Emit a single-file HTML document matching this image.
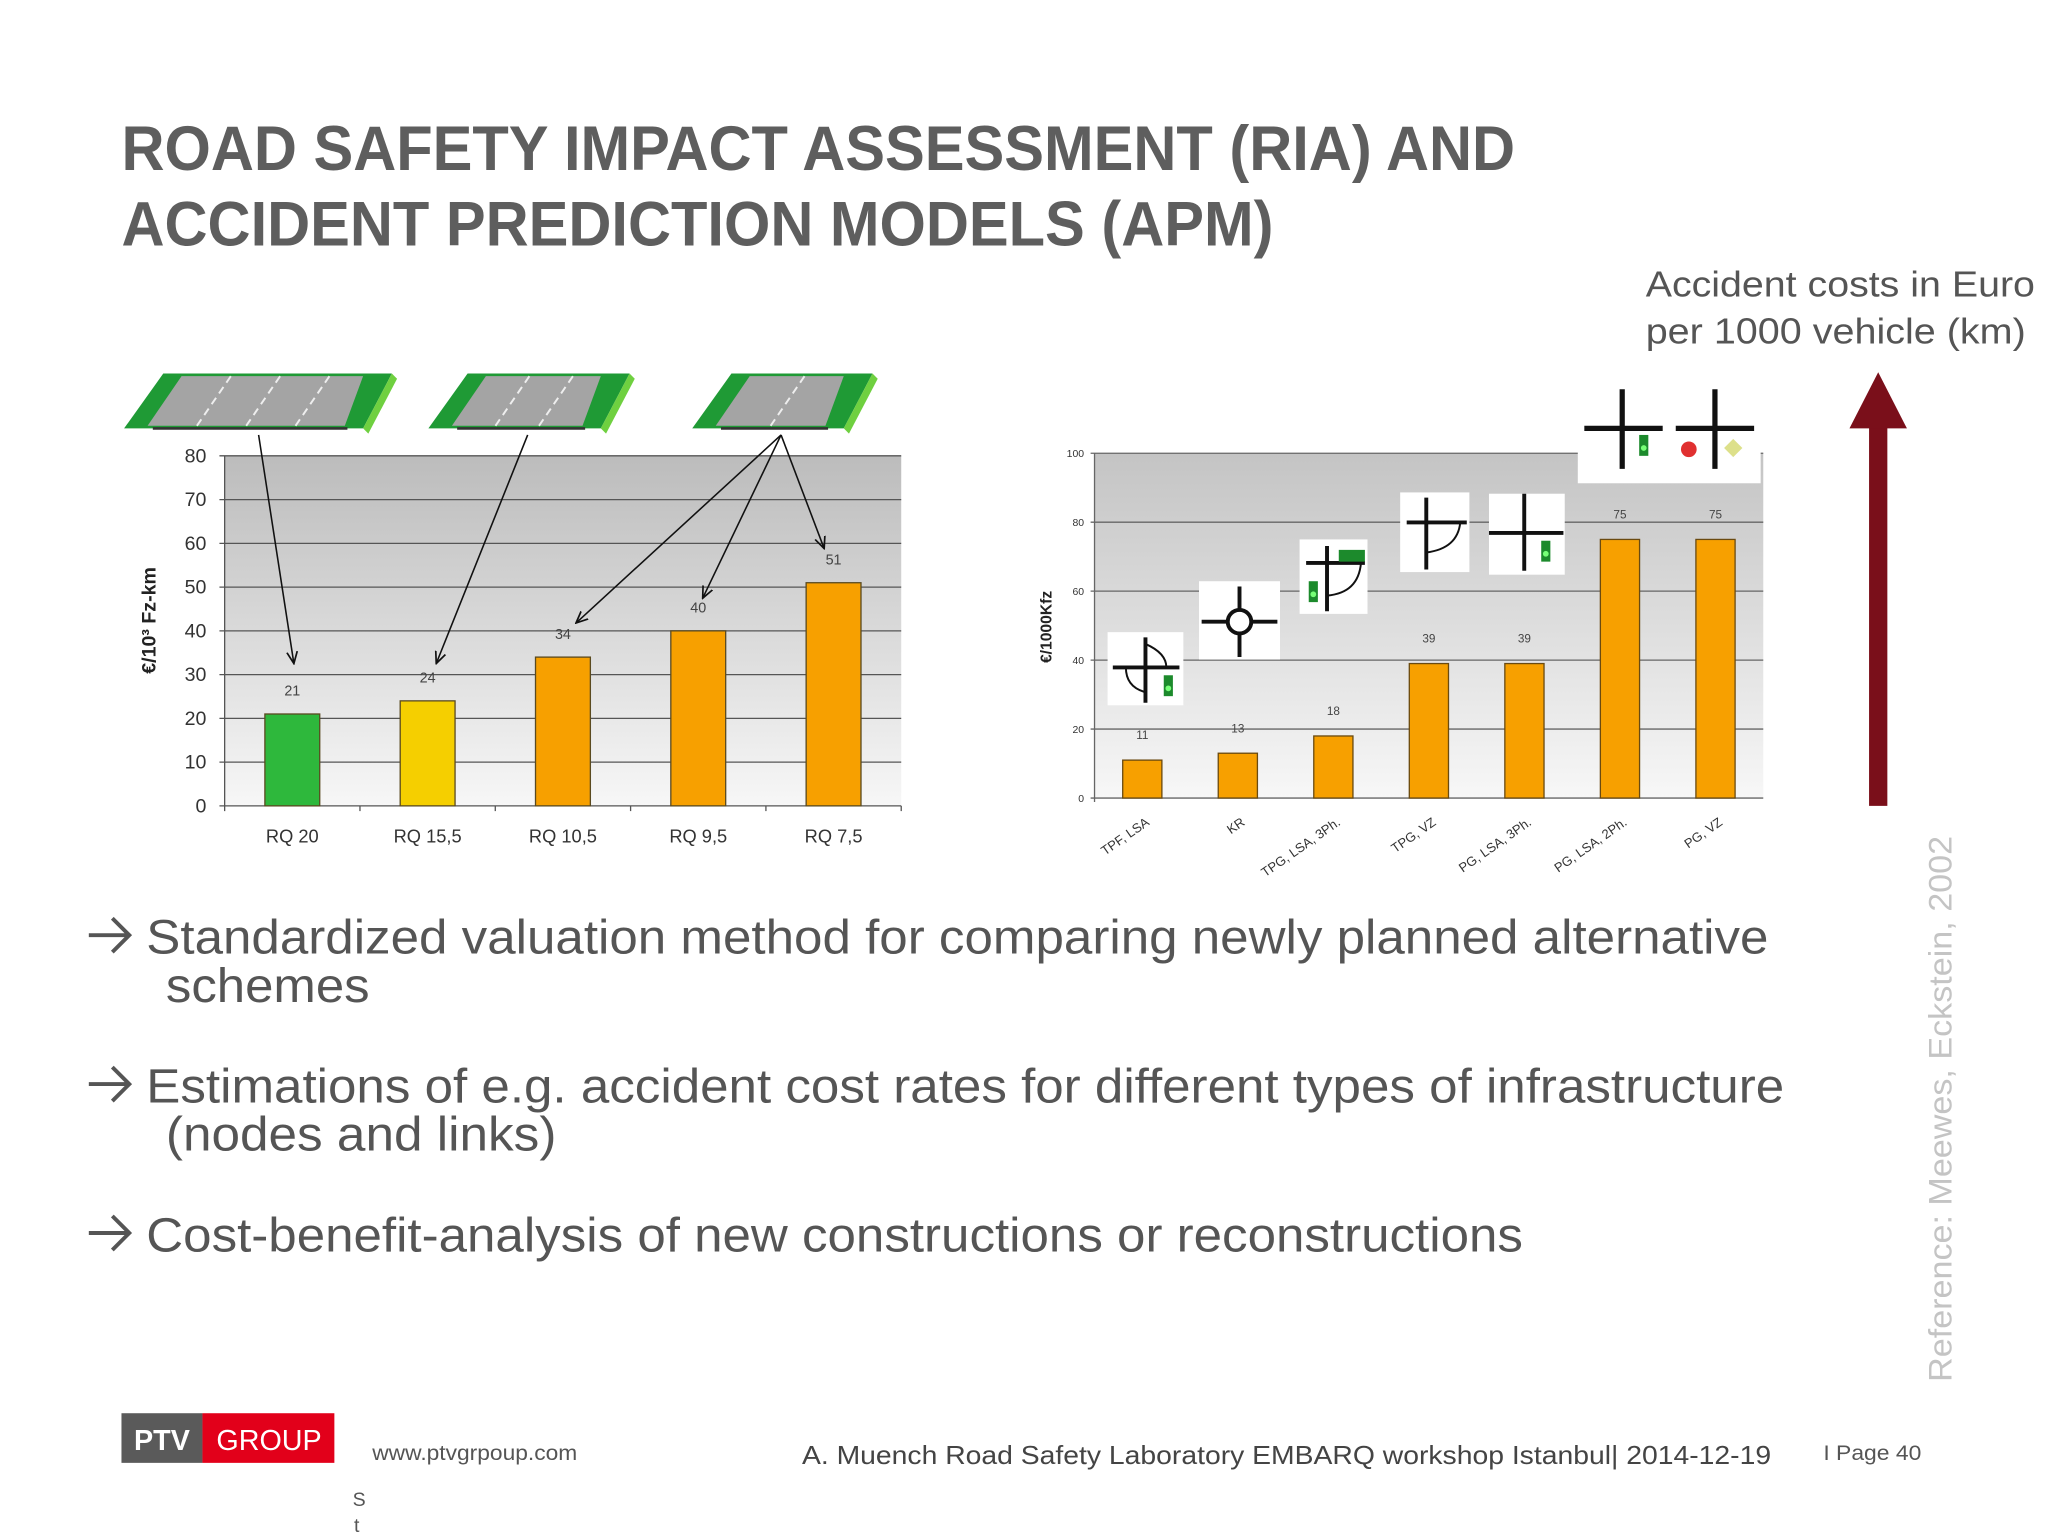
<!DOCTYPE html>
<html><head><meta charset="utf-8"><style>
html,body{margin:0;padding:0;background:#fff;}
svg{display:block;font-family:"Liberation Sans",sans-serif;}
</style></head><body>
<svg id="s" width="2048" height="1536" viewBox="0 0 1568 1176" xmlns="http://www.w3.org/2000/svg">
<defs>
<linearGradient id="pg" x1="0" y1="0" x2="0" y2="1"><stop offset="0" stop-color="#bcbcbc"/><stop offset="1" stop-color="#f7f7f7"/></linearGradient>
<linearGradient id="pg2" x1="0" y1="0" x2="0" y2="1"><stop offset="0" stop-color="#c4c4c4"/><stop offset="1" stop-color="#f7f7f7"/></linearGradient>
<marker id="ah" markerWidth="10" markerHeight="10" refX="9" refY="5" orient="auto" markerUnits="userSpaceOnUse"><path d="M0,1 L9,5 L0,9" fill="none" stroke="#111" stroke-width="1.3"/></marker>
</defs>
<rect x="0" y="0" width="1568" height="1176" fill="#fff"/>
<text x="93" y="130" font-size="48" font-weight="bold" fill="#5e5e5e" textLength="1067" lengthAdjust="spacingAndGlyphs">ROAD SAFETY IMPACT ASSESSMENT (RIA) AND</text>
<text x="93" y="188" font-size="48" font-weight="bold" fill="#5e5e5e" textLength="882" lengthAdjust="spacingAndGlyphs">ACCIDENT PREDICTION MODELS (APM)</text>
<text x="1260" y="227" font-size="28" fill="#555" textLength="298" lengthAdjust="spacingAndGlyphs">Accident costs in Euro</text>
<text x="1260" y="263" font-size="28" fill="#555" textLength="291" lengthAdjust="spacingAndGlyphs">per 1000 vehicle (km)</text>
<g>
<rect x="1431" y="320" width="14" height="297" fill="#7a0f1a"/>
<polygon points="1416,328 1438,285 1460,328" fill="#7a0f1a"/>
</g>
<g id="left"></g>
<g id="right"></g>
<g fill="#555" font-size="37">
<path d="M68,716 H99 M86,703 L99,716 L86,729" fill="none" stroke="#555" stroke-width="3"/>
<text x="112" y="730" textLength="1242" lengthAdjust="spacingAndGlyphs">Standardized valuation method for comparing newly planned alternative</text>
<text x="127" y="767" textLength="156" lengthAdjust="spacingAndGlyphs">schemes</text>
<path d="M68,830 H99 M86,817 L99,830 L86,843" fill="none" stroke="#555" stroke-width="3"/>
<text x="112" y="844" textLength="1254" lengthAdjust="spacingAndGlyphs">Estimations of e.g. accident cost rates for different types of infrastructure</text>
<text x="127" y="881" textLength="299" lengthAdjust="spacingAndGlyphs">(nodes and links)</text>
<path d="M68,944 H99 M86,931 L99,944 L86,957" fill="none" stroke="#555" stroke-width="3"/>
<text x="112" y="958" textLength="1054" lengthAdjust="spacingAndGlyphs">Cost-benefit-analysis of new constructions or reconstructions</text>
</g>
<text transform="translate(1494,1058) rotate(-90)" font-size="25" fill="#c4c4c4" textLength="418" lengthAdjust="spacingAndGlyphs">Reference: Meewes, Eckstein, 2002</text>
<g>
<rect x="93" y="1082" width="62" height="38" fill="#5a5a5a"/>
<rect x="155" y="1082" width="101" height="38" fill="#e2001a"/>
<text x="124" y="1110" font-size="22" font-weight="bold" fill="#fff" text-anchor="middle">PTV</text>
<text x="206" y="1110" font-size="22" fill="#fff" text-anchor="middle">GROUP</text>
</g>
<text x="285" y="1118" font-size="16" fill="#555" textLength="157" lengthAdjust="spacingAndGlyphs">www.ptvgrpoup.com</text>
<text x="614" y="1121" font-size="20" fill="#444" textLength="742" lengthAdjust="spacingAndGlyphs">A. Muench Road Safety Laboratory EMBARQ workshop Istanbul| 2014-12-19</text>
<text x="1396" y="1118" font-size="16" fill="#555" textLength="75" lengthAdjust="spacingAndGlyphs">I Page 40</text>
<text x="270" y="1153" font-size="15" fill="#555">S</text>
<text x="271" y="1173" font-size="15" fill="#555">t</text>
</svg>
<script>
const NS="http://www.w3.org/2000/svg";
function mk(p,tag,attrs,txt){const e=document.createElementNS(NS,tag);for(const k in attrs)e.setAttribute(k,attrs[k]);if(txt!==undefined)e.textContent=txt;p.appendChild(e);return e;}

// ---- Left chart data ----
const leftCats=["RQ 20","RQ 15,5","RQ 10,5","RQ 9,5","RQ 7,5"];
const leftVals=[21,24,34,40,51];
const leftColors=["#2eb83c","#f5cf00","#f7a000","#f7a000","#f7a000"];
const leftTicks=[0,10,20,30,40,50,60,70,80];
// ---- Right chart data ----
const rightCats=["TPF, LSA","KR","TPG, LSA, 3Ph.","TPG, VZ","PG, LSA, 3Ph.","PG, LSA, 2Ph.","PG, VZ"];
const rightVals=[11,13,18,39,39,75,75];
const rightTicks=[0,20,40,60,80,100];

// Left chart
(function(){
const g=document.getElementById('left');
const x0=172,x1=690,yb=617,yt=349,max=80;
const y=v=>yb-(v/max)*(yb-yt);
const bw=(x1-x0)/leftCats.length;
const xc=i=>x0+bw*(i+0.5);
mk(g,'rect',{x:x0,y:yt,width:x1-x0,height:yb-yt,fill:'url(#pg)'});
leftTicks.forEach(t=>{
  const l=mk(g,'line',{x1:x0-4,x2:x1,y1:y(t),y2:y(t),stroke:'#555','stroke-width':1});
  
  
  const tx=mk(g,'text',{x:x0-14,y:y(t)+5,'font-size':15,fill:'#333','text-anchor':'end'},t);
  
  
});
mk(g,'line',{x1:x0,x2:x0,y1:yt,y2:yb+4,stroke:'#555'});
leftCats.forEach((c,i)=>{
  const w=42,v=leftVals[i];
  const r=mk(g,'rect',{x:xc(i)-w/2,y:y(v),width:w,height:yb-y(v),fill:leftColors[i],stroke:'#5a4a20','stroke-width':1});
  
  
  const vl=mk(g,'text',{x:xc(i),y:y(v)-14,'font-size':11,fill:'#444','text-anchor':'middle'},v);
  
  
  const cl=mk(g,'text',{x:xc(i),y:yb+28,'font-size':14,fill:'#333','text-anchor':'middle'},c);
  
  
  mk(g,'line',{x1:x0+bw*(i+1),x2:x0+bw*(i+1),y1:yb,y2:yb+4,stroke:'#555'});
});
const yt2=mk(g,'text',{transform:'translate(119,475) rotate(-90)','font-size':15,fill:'#222','text-anchor':'middle','font-weight':'bold'},'€/10³ Fz-km');


function road(x,w,lanes){
  const rg=mk(g,'g',{});
  
  
  const sk=30;
  mk(rg,'polygon',{points:`${x},328 ${x+sk},286 ${x+w},286 ${x+w-sk+8},328`,fill:'#1f9a35'});
  mk(rg,'polygon',{points:`${x+18},326 ${x+sk+14},288 ${x+w-22},288 ${x+w-sk-6},326`,fill:'#a4a4a4'});
  for(let k=1;k<lanes;k++){const f=k/lanes;const a=x+18+(w-sk-24)*f;mk(rg,'line',{x1:a,y1:326,x2:a+sk-4,y2:288,stroke:'#eee','stroke-width':1.5,'stroke-dasharray':'6 4'});}
  mk(rg,'polygon',{points:`${x+w-sk+8},328 ${x+w},286 ${x+w+4},290 ${x+w-sk+12},332`,fill:'#6fd040'});
  mk(rg,'line',{x1:x+22,y1:328,x2:x+w-sk-4,y2:328,stroke:'#333','stroke-width':2});
}
road(95,205,4);road(328,154,3);road(530,138,2);
const arrows=[[198,333,225,508],[404,333,334,508],[598,333,441,477],[598,333,538,458],[598,333,631,420]];
arrows.forEach(a=>{const l=mk(g,'line',{x1:a[0],y1:a[1],x2:a[2],y2:a[3],stroke:'#111','stroke-width':1.2,'marker-end':'url(#ah)'});
  
  });
})();

// Right chart
(function(){
const g=document.getElementById('right');
const x0=838,x1=1350,yb=611,yt=347,max=100;
const y=v=>yb-(v/max)*(yb-yt);
const bw=(x1-x0)/rightCats.length;
const xc=i=>x0+bw*(i+0.5);
mk(g,'rect',{x:x0,y:yt,width:x1-x0,height:yb-yt,fill:'url(#pg2)'});
rightTicks.forEach(t=>{
  const l=mk(g,'line',{x1:x0-3,x2:x1,y1:y(t),y2:y(t),stroke:'#666','stroke-width':1});
  
  
  const tx=mk(g,'text',{x:x0-8,y:y(t)+3,'font-size':8,fill:'#333','text-anchor':'end'},t);
  
  
});
mk(g,'line',{x1:x0,x2:x0,y1:yt,y2:yb+3,stroke:'#666'});
rightCats.forEach((c,i)=>{
  const w=30,v=rightVals[i];
  const r=mk(g,'rect',{x:xc(i)-w/2,y:y(v),width:w,height:yb-y(v),fill:'#f7a000',stroke:'#6a4a10','stroke-width':1});
  
  
  const vl=mk(g,'text',{x:xc(i),y:y(v)-16,'font-size':9,fill:'#444','text-anchor':'middle'},v);
  
  
  const cl=mk(g,'text',{transform:`translate(${xc(i)+6},${yb+20}) rotate(-35)`,'font-size':10,fill:'#333','text-anchor':'end'},c);
  
  
});
const yt2=mk(g,'text',{transform:'translate(805,480) rotate(-90)','font-size':12,fill:'#222','text-anchor':'middle','font-weight':'bold'},'€/1000Kfz');


function box(x,y,w,h){const b=mk(g,'g',{});mk(b,'rect',{x,y,width:w,height:h,fill:'#fff'});return b;}
function sig(p,x,y){mk(p,'rect',{x,y,width:7,height:16,fill:'#1c8a2c'});mk(p,'circle',{cx:x+3.5,cy:y+10,r:2.2,fill:'#7f7'});}
let b=box(848,484,58,56);
mk(b,'line',{x1:877,y1:488,x2:877,y2:538,stroke:'#111','stroke-width':3});
mk(b,'line',{x1:852,y1:511,x2:903,y2:511,stroke:'#111','stroke-width':3});
mk(b,'path',{d:'M877,493 Q893,500 893,511 M862,511 Q862,526 877,530',fill:'none',stroke:'#111','stroke-width':1.5});
sig(b,891,517);
b=box(918,445,62,60);
mk(b,'line',{x1:949,y1:449,x2:949,y2:503,stroke:'#111','stroke-width':3});
mk(b,'line',{x1:920,y1:476,x2:978,y2:476,stroke:'#111','stroke-width':3});
mk(b,'circle',{cx:949,cy:476,r:9,fill:'#fff',stroke:'#111','stroke-width':3});
b=box(995,413,52,57);
mk(b,'line',{x1:1016,y1:418,x2:1016,y2:468,stroke:'#111','stroke-width':3});
mk(b,'line',{x1:1000,y1:431,x2:1045,y2:431,stroke:'#111','stroke-width':3});
mk(b,'path',{d:'M1016,456 Q1040,454 1042,431',fill:'none',stroke:'#111','stroke-width':1.5});
sig(b,1002,445);mk(b,'rect',{x:1025,y:421,width:20,height:9,fill:'#1c8a2c'});
b=box(1072,377,53,61);
mk(b,'line',{x1:1092,y1:381,x2:1092,y2:436,stroke:'#111','stroke-width':3});
mk(b,'line',{x1:1077,y1:400,x2:1123,y2:400,stroke:'#111','stroke-width':3});
mk(b,'path',{d:'M1092,423 Q1116,420 1118,400',fill:'none',stroke:'#111','stroke-width':1.5});
b=box(1140,378,58,62);
mk(b,'line',{x1:1167,y1:378,x2:1167,y2:437,stroke:'#111','stroke-width':3});
mk(b,'line',{x1:1140,y1:408,x2:1197,y2:408,stroke:'#111','stroke-width':3});
sig(b,1180,414);
b=box(1208,290,140,80);
mk(b,'line',{x1:1242,y1:298,x2:1242,y2:359,stroke:'#111','stroke-width':4});
mk(b,'line',{x1:1213,y1:328,x2:1273,y2:328,stroke:'#111','stroke-width':4});
sig(b,1255,333);
mk(b,'line',{x1:1313,y1:298,x2:1313,y2:359,stroke:'#111','stroke-width':4});
mk(b,'line',{x1:1283,y1:328,x2:1343,y2:328,stroke:'#111','stroke-width':4});
mk(b,'circle',{cx:1293,cy:344,r:6,fill:'#e03030'});
mk(b,'polygon',{points:'1327,336 1334,343 1327,350 1320,343',fill:'#dde08a'});
})();
</script>
</body></html>
